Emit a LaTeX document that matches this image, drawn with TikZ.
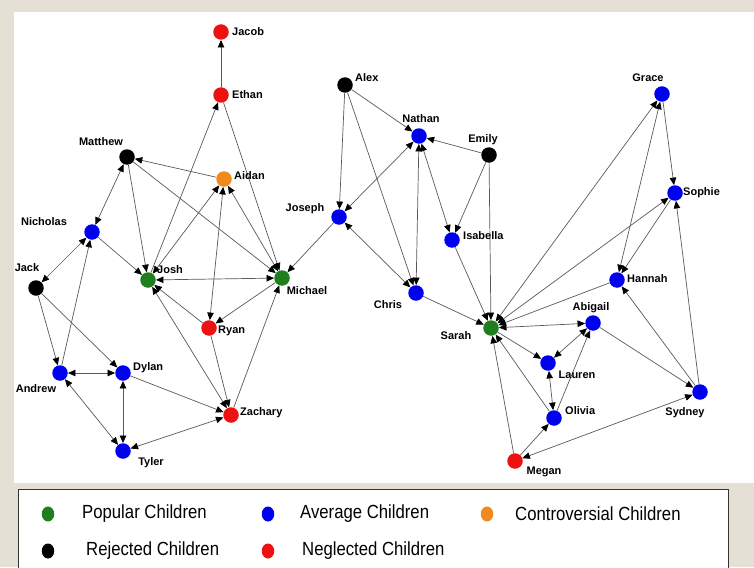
\documentclass[tikz,border=0pt]{standalone}
\usepackage{fontspec}
\usetikzlibrary{arrows.meta,shapes.geometric}
\newfontfamily\arialfont{Liberation Sans}
\newfontfamily\narrowfont[FakeStretch=0.88]{Liberation Sans}
\definecolor{beige}{HTML}{E4E0D6}
\definecolor{edgegray}{HTML}{5A5A5A}
\definecolor{popgreen}{HTML}{1F7F1F}
\definecolor{avgblue}{HTML}{0000F0}
\definecolor{negred}{HTML}{EE1111}
\definecolor{controrange}{HTML}{F08A1E}
\pgfdeclarelayer{bg}
\pgfdeclarelayer{edges}
\pgfsetlayers{bg,edges,main}
\tikzset{
  kid/.style={circle, minimum size=15.5pt, inner sep=0pt},
  popular/.style={kid, fill=popgreen},
  average/.style={kid, fill=avgblue},
  rejected/.style={kid, fill=black},
  neglected/.style={kid, fill=negred},
  controversial/.style={kid, fill=controrange},
  lbl/.style={font=\arialfont\bfseries\fontsize{11}{13}\selectfont, inner sep=0pt},
  lblr/.style={lbl, anchor=west},
  legtext/.style={font=\narrowfont\fontsize{19}{22}\selectfont, inner sep=0pt, anchor=west},
  legdot/.style={ellipse, minimum width=12.5pt, minimum height=15pt, inner sep=0pt},
  oneway/.style={draw=edgegray, line width=0.7pt, -{Triangle[length=7.5pt,width=6.5pt,color=black]}},
  twoway/.style={draw=edgegray, line width=0.7pt, {Triangle[length=7.5pt,width=6.5pt,color=black]}-{Triangle[length=7.5pt,width=6.5pt,color=black]}},
}
\begin{document}
\begin{tikzpicture}[x=1pt,y=-1pt]
\useasboundingbox (0,0) rectangle (754,567);
\begin{pgfonlayer}{bg}
  \fill[beige] (0,0) rectangle (754,567);
  \fill[white] (14,12) rectangle (754,483);
  \begin{scope}
    \clip (0,0) rectangle (754,567);
    \draw[fill=white, draw=black!80, line width=1pt] (18,489) rectangle (728,580);
  \end{scope}
\end{pgfonlayer}

% nodes
\node[neglected] (jacob) at (221,32) {};
\node[neglected] (ethan) at (221,95) {};
\node[rejected] (matthew) at (127,157) {};
\node[controversial] (aidan) at (224,179) {};
\node[average] (nicholas) at (92,232) {};
\node[rejected] (jack) at (36,288) {};
\node[popular] (josh) at (148,280) {};
\node[popular] (michael) at (282,278) {};
\node[neglected] (ryan) at (209,328) {};
\node[average] (andrew) at (60,373) {};
\node[average] (dylan) at (123,373) {};
\node[neglected] (zachary) at (231,415) {};
\node[average] (tyler) at (123,451) {};
\node[rejected] (alex) at (345,85) {};
\node[average] (nathan) at (419,136) {};
\node[rejected] (emily) at (489,155) {};
\node[average] (joseph) at (339,217) {};
\node[average] (isabella) at (452,240) {};
\node[average] (chris) at (416,293) {};
\node[popular] (sarah) at (491,328) {};
\node[average] (grace) at (662,94) {};
\node[average] (sophie) at (675,193) {};
\node[average] (hannah) at (617,280) {};
\node[average] (abigail) at (593,323) {};
\node[average] (lauren) at (548,363) {};
\node[average] (olivia) at (554,418) {};
\node[average] (sydney) at (700,392) {};
\node[neglected] (megan) at (515,461) {};

% labels
\node[lblr] (jacobL) at (232,32) {Jacob};
\node[lblr] (ethanL) at (232,95) {Ethan};
\node[lblr] (aidanL) at (234,176) {Aidan};
\node[lblr] (joshL) at (157,270) {Josh};
\node[lblr] (ryanL) at (218,331) {Ryan};
\node[lblr] (dylanL) at (133,368) {Dylan};
\node[lblr] (zacharyL) at (240,413) {Zachary};
\node[lblr] (alexL) at (355,78) {Alex};
\node[lblr] (isabellaL) at (463,236) {Isabella};
\node[lblr] (sophieL) at (683,193) {Sophie};
\node[lblr] (hannahL) at (627,279) {Hannah};
\node[lblr] (oliviaL) at (565,411) {Olivia};
\node[lbl] (matthewL) at (101,142) {Matthew};
\node[lbl] (nicholasL) at (44,222) {Nicholas};
\node[lbl] (jackL) at (27,268) {Jack};
\node[lbl] (michaelL) at (307,291) {Michael};
\node[lbl] (andrewL) at (36,389) {Andrew};
\node[lbl] (tylerL) at (151,463) {Tyler};
\node[lbl] (nathanL) at (421,119) {Nathan};
\node[lbl] (emilyL) at (483,140) {Emily};
\node[lbl] (josephL) at (305,209) {Joseph};
\node[lbl] (chrisL) at (388,305) {Chris};
\node[lbl] (sarahL) at (456,336) {Sarah};
\node[lbl] (graceL) at (648,78) {Grace};
\node[lbl] (abigailL) at (591,308) {Abigail};
\node[lbl] (laurenL) at (577,375) {Lauren};
\node[lbl] (sydneyL) at (685,413) {Sydney};
\node[lbl] (meganL) at (544,472) {Megan};

% edges
\begin{pgfonlayer}{edges}
\draw[oneway] (ethan) -- (jacob);
\draw[oneway] (josh) -- (ethan);
\draw[oneway] (ethan) -- (michael);
\draw[oneway] (aidan) -- (matthew);
\draw[oneway] (matthew) -- (josh);
\draw[oneway] (matthew) -- (michael);
\draw[oneway] (michael) -- (ryan);
\draw[oneway] (ryan) -- (josh);
\draw[oneway] (ryan) -- (zachary);
\draw[oneway] (zachary) -- (michael);
\draw[oneway] (nicholas) -- (josh);
\draw[oneway] (andrew) -- (nicholas);
\draw[oneway] (jack) -- (andrew);
\draw[oneway] (jack) -- (dylan);
\draw[oneway] (dylan) -- (zachary);
\draw[oneway] (joseph) -- (michael);
\draw[oneway] (alex) -- (joseph);
\draw[oneway] (alex) -- (nathan);
\draw[oneway] (alex) -- (chris);
\draw[oneway] (emily) -- (nathan);
\draw[oneway] (emily) -- (isabella);
\draw[oneway] (emily) -- (sarah);
\draw[oneway] (chris) -- (sarah);
\draw[oneway] (isabella) -- (sarah);
\draw[oneway] (grace) -- (sophie);
\draw[oneway] (sydney) -- (sophie);
\draw[oneway] (sophie) -- (hannah);
\draw[oneway] (sydney) -- (hannah);
\draw[oneway] (hannah) -- (sarah);
\draw[oneway] (abigail) -- (sydney);
\draw[oneway] (olivia) -- (abigail);
\draw[oneway] (sarah) -- (lauren);
\draw[oneway] (olivia) -- (sarah);
\draw[oneway] (megan) -- (sarah);
\draw[oneway] (megan) -- (olivia);
\draw[twoway] (matthew) -- (nicholas);
\draw[twoway] (aidan) -- (josh);
\draw[twoway] (aidan) -- (ryan);
\draw[twoway] (aidan) -- (michael);
\draw[twoway] (josh) -- (michael);
\draw[twoway] (zachary) -- (josh);
\draw[twoway] (nicholas) -- (jack);
\draw[twoway] (andrew) -- (dylan);
\draw[twoway] (andrew) -- (tyler);
\draw[twoway] (dylan) -- (tyler);
\draw[twoway] (tyler) -- (zachary);
\draw[twoway] (nathan) -- (joseph);
\draw[twoway] (nathan) -- (isabella);
\draw[twoway] (nathan) -- (chris);
\draw[twoway] (chris) -- (joseph);
\draw[twoway] (grace) -- (sarah);
\draw[twoway] (grace) -- (hannah);
\draw[twoway] (sophie) -- (sarah);
\draw[twoway] (sarah) -- (abigail);
\draw[twoway] (abigail) -- (lauren);
\draw[twoway] (lauren) -- (olivia);
\draw[twoway] (sydney) -- (megan);
\end{pgfonlayer}

% legend
\node[legdot, fill=popgreen] (legpop) at (48,514) {};
\node[legtext] (legpopT) at (82,514) {Popular Children};
\node[legdot, fill=avgblue] (legavg) at (268,514) {};
\node[legtext] (legavgT) at (300,514) {Average Children};
\node[legdot, fill=controrange] (legcon) at (487,514) {};
\node[legtext] (legconT) at (515,514) {Controversial Children};
\node[legdot, fill=black] (legrej) at (48,551) {};
\node[legtext] (legrejT) at (86,551) {Rejected Children};
\node[legdot, fill=negred] (legneg) at (268,551) {};
\node[legtext] (legnegT) at (302,551) {Neglected Children};
\end{tikzpicture}
\end{document}
